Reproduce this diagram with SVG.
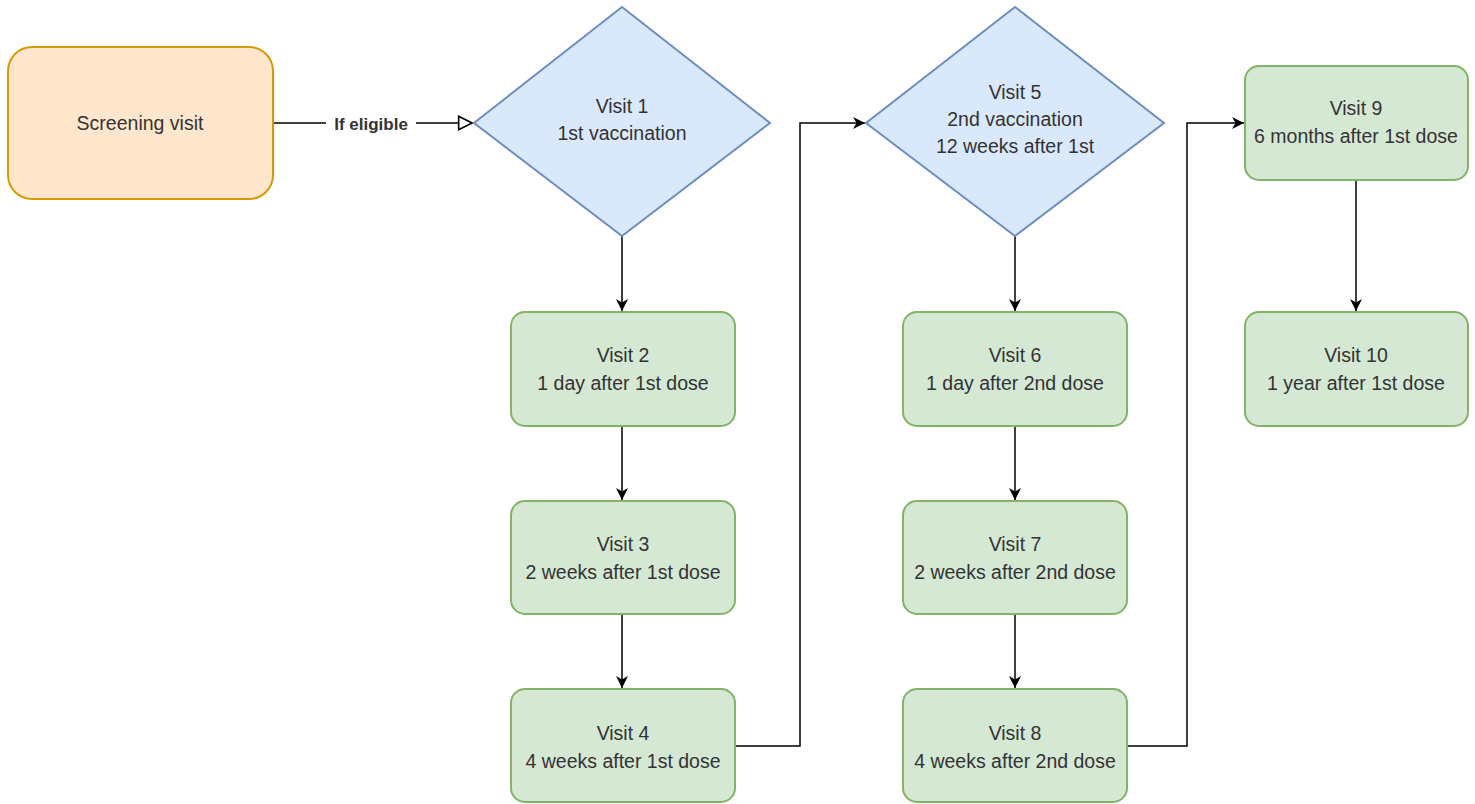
<svg xmlns="http://www.w3.org/2000/svg" width="1475" height="804" viewBox="0 0 1475 804">
<defs>
<style>
.g{fill:#d5e8d4;stroke:#82b366;stroke-width:2}
.b{fill:#dae8fc;stroke:#6c8ebf;stroke-width:2}
.o{fill:#ffe6cc;stroke:#d79b00;stroke-width:2}
.t{font-family:"Liberation Sans",Arial,sans-serif;font-size:19.5px;fill:#333;text-anchor:middle;dominant-baseline:central}
.e{fill:none;stroke:#000;stroke-width:1.5}
.lb{font-family:"Liberation Sans",Arial,sans-serif;font-size:17px;font-weight:bold;fill:#333;text-anchor:middle;dominant-baseline:central}
</style>
<marker id="a" viewBox="0 0 10 10" refX="10" refY="5" markerWidth="12" markerHeight="12" markerUnits="userSpaceOnUse" orient="auto"><path d="M0,0 L10,5 L0,10 L3,5 Z" fill="#000"/></marker>
<marker id="op" viewBox="0 0 12 12" refX="11" refY="6" markerWidth="16" markerHeight="16" markerUnits="userSpaceOnUse" orient="auto"><path d="M1,1 L11,6 L1,11 Z" fill="#fff" stroke="#000" stroke-width="1.2"/></marker>
</defs>
<rect width="1475" height="804" fill="#fff"/>
<g id="edges">
<path class="e" d="M273,123 H472" marker-end="url(#op)"/>
<rect x="326" y="112" width="90" height="24" fill="#fff"/>
<text class="lb" x="371" y="124">If eligible</text>
<path class="e" d="M622,236 V311" marker-end="url(#a)"/>
<path class="e" d="M622,426 V500" marker-end="url(#a)"/>
<path class="e" d="M622,614 V688" marker-end="url(#a)"/>
<path class="e" d="M735,746 H800 V123 H865" marker-end="url(#a)"/>
<path class="e" d="M1015,236 V311" marker-end="url(#a)"/>
<path class="e" d="M1015,426 V500" marker-end="url(#a)"/>
<path class="e" d="M1015,614 V688" marker-end="url(#a)"/>
<path class="e" d="M1127,746 H1187 V123 H1244" marker-end="url(#a)"/>
<path class="e" d="M1356,180 V311" marker-end="url(#a)"/>
</g>
<g id="screening"><rect class="o" x="8" y="47" width="265" height="152" rx="24"/><text class="t" x="140" y="123">Screening visit</text></g>
<g id="visit1"><polygon class="b" points="622,7 770,123 622,236 474,123"/><text class="t" x="622" y="106">Visit 1</text><text class="t" x="622" y="133">1st vaccination</text></g>
<g id="visit2"><rect class="g" x="511" y="312" width="224" height="114" rx="14"/><text class="t" x="623" y="355">Visit 2</text><text class="t" x="623" y="383">1 day after 1st dose</text></g>
<g id="visit3"><rect class="g" x="511" y="501" width="224" height="113" rx="14"/><text class="t" x="623" y="544">Visit 3</text><text class="t" x="623" y="572">2 weeks after 1st dose</text></g>
<g id="visit4"><rect class="g" x="511" y="689" width="224" height="113" rx="14"/><text class="t" x="623" y="733">Visit 4</text><text class="t" x="623" y="761">4 weeks after 1st dose</text></g>
<g id="visit5"><polygon class="b" points="1015,7 1164,123 1015,236 866,123"/><text class="t" x="1015" y="92">Visit 5</text><text class="t" x="1015" y="119">2nd vaccination</text><text class="t" x="1015" y="146">12 weeks after 1st</text></g>
<g id="visit6"><rect class="g" x="903" y="312" width="224" height="114" rx="14"/><text class="t" x="1015" y="355">Visit 6</text><text class="t" x="1015" y="383">1 day after 2nd dose</text></g>
<g id="visit7"><rect class="g" x="903" y="501" width="224" height="113" rx="14"/><text class="t" x="1015" y="544">Visit 7</text><text class="t" x="1015" y="572">2 weeks after 2nd dose</text></g>
<g id="visit8"><rect class="g" x="903" y="689" width="224" height="113" rx="14"/><text class="t" x="1015" y="733">Visit 8</text><text class="t" x="1015" y="761">4 weeks after 2nd dose</text></g>
<g id="visit9"><rect class="g" x="1245" y="66" width="223" height="114" rx="14"/><text class="t" x="1356" y="108">Visit 9</text><text class="t" x="1356" y="136">6 months after 1st dose</text></g>
<g id="visit10"><rect class="g" x="1245" y="312" width="223" height="114" rx="14"/><text class="t" x="1356" y="355">Visit 10</text><text class="t" x="1356" y="383">1 year after 1st dose</text></g>
</svg>
